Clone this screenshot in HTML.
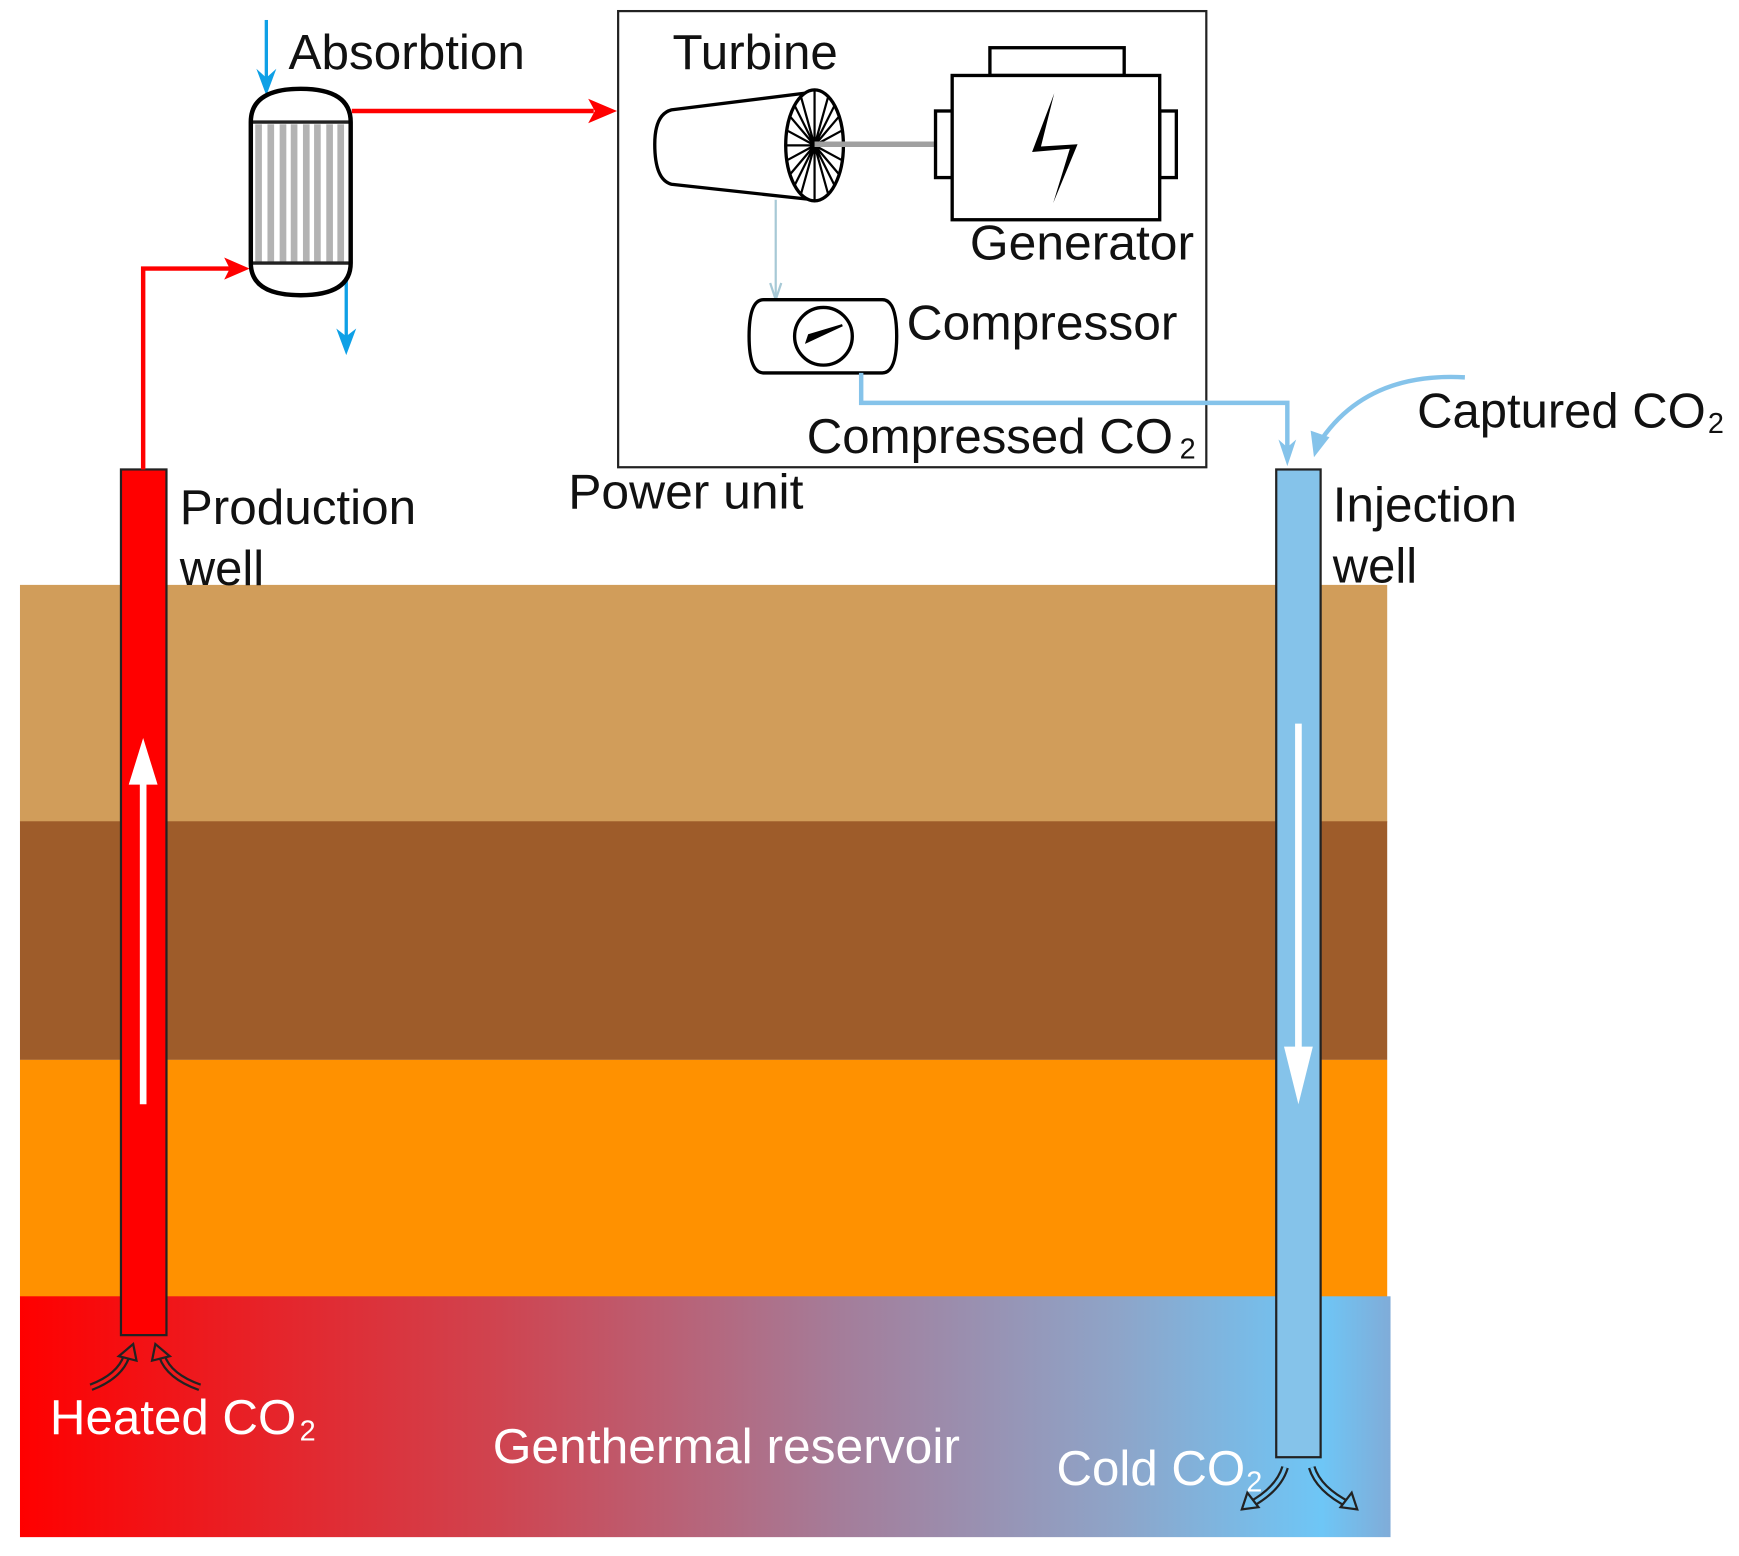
<!DOCTYPE html>
<html><head><meta charset="utf-8"><style>html,body{margin:0;padding:0;background:#fff}svg{display:block}</style></head>
<body>
<svg width="1739" height="1556" viewBox="0 0 1567 1402" preserveAspectRatio="none" xmlns="http://www.w3.org/2000/svg" font-family="Liberation Sans, Arial, sans-serif">
<defs>
<linearGradient id="res" x1="0" y1="0" x2="1" y2="0">
<stop offset="0" stop-color="#ff0000"/>
<stop offset="0.35" stop-color="#cf4450"/>
<stop offset="0.6" stop-color="#a47d9a"/>
<stop offset="0.8" stop-color="#8ea4c8"/>
<stop offset="0.95" stop-color="#6ec6f6"/>
<stop offset="1" stop-color="#80acd8"/>
</linearGradient>
</defs>
<!-- layers -->
<rect x="18" y="527" width="1232" height="214" fill="#d19d5a"/>
<rect x="18" y="740" width="1232" height="215" fill="#9e5c2a"/>
<rect x="18" y="955" width="1232" height="214" fill="#ff9100"/>
<rect x="18" y="1168" width="1235" height="217" fill="url(#res)"/>
<!-- production well -->
<rect x="109" y="423" width="41" height="780" fill="#ff0000" stroke="#222" stroke-width="2"/>
<path d="M129,995 V705" stroke="#fff" stroke-width="6"/>
<path d="M116,707 L129,665 L142,707Z" fill="#fff"/>
<!-- injection well -->
<rect x="1150" y="423" width="40" height="890" fill="#85c3ea" stroke="#222" stroke-width="2"/>
<path d="M1170,652 V945" stroke="#fff" stroke-width="6"/>
<path d="M1157,943 L1170,995 L1183,943Z" fill="#fff"/>
<!-- flow arrows (hollow) -->
<g fill="none" stroke-linecap="butt">
<g stroke="#222" stroke-width="7">
<path d="M114,1222 Q108,1240 82,1250"/>
<path d="M146,1222 Q152,1240 180,1250"/>
<path d="M1158,1322 Q1152,1342 1126,1356"/>
<path d="M1182,1322 Q1188,1342 1216,1356"/>
</g>
<g stroke-width="3">
<path d="M114,1222 Q108,1240 82,1250" stroke="#f21818"/>
<path d="M146,1222 Q152,1240 180,1250" stroke="#f01a1c"/>
<path d="M1158,1322 Q1152,1342 1126,1356" stroke="#70c0ee"/>
<path d="M1182,1322 Q1188,1342 1216,1356" stroke="#6ec6f6"/>
</g>
</g>
<g stroke="#222" stroke-width="2" fill="#f01818">
<path d="M120,1211 L123,1226 L107,1222Z"/>
<path d="M140,1211 L137,1226 L153,1222Z"/>
</g>
<g stroke="#222" stroke-width="2" fill="#70c0ee">
<path d="M1119,1360 L1124,1345 L1134,1358Z"/>
<path d="M1223,1360 L1218,1345 L1208,1358Z"/>
</g>
<!-- red pipes -->
<path d="M129,423 V242 H210" stroke="red" stroke-width="4" fill="none"/>
<path d="M202,232 L225,242 L202,252 L207,242Z" fill="red"/>
<path d="M317,100 H535" stroke="red" stroke-width="4" fill="none"/>
<path d="M530,89 L556,100 L530,111 L536,100Z" fill="red"/>
<!-- blue absorption -->
<path d="M240,18 V75" stroke="#0ea0e6" stroke-width="3"/>
<path d="M231,62 L240,86 L249,62 L240,70Z" fill="#0ea0e6"/>
<path d="M312,250 V305" stroke="#0ea0e6" stroke-width="3"/>
<path d="M303,296 L312,320 L321,296 L312,303Z" fill="#0ea0e6"/>
<!-- vessel -->
<g>
<rect x="226" y="110" width="90" height="127" fill="#fff"/>
<g fill="#b3b3b3">
<rect x="230" y="112" width="6" height="124"/><rect x="241" y="112" width="6" height="124"/><rect x="252" y="112" width="6" height="124"/><rect x="262" y="112" width="6" height="124"/><rect x="273" y="112" width="6" height="124"/><rect x="283" y="112" width="6" height="124"/><rect x="294" y="112" width="6" height="124"/><rect x="304" y="112" width="6" height="124"/>
</g>
<path d="M226,110 H316 M226,237 H316" stroke="#222" stroke-width="3"/>
<path d="M226,110 Q226,80 271,80 Q316,80 316,110 V237 Q316,266 271,266 Q226,266 226,237 Z" fill="none" stroke="#000" stroke-width="4"/>
</g>
<!-- power unit box -->
<rect x="557" y="10" width="530" height="411" fill="none" stroke="#222" stroke-width="2"/>
<!-- turbine -->
<path d="M733,83 L605,99 Q590,103 590,130 Q590,162 605,166 L733,180" fill="none" stroke="#000" stroke-width="3"/>
<ellipse cx="734" cy="131" rx="26" ry="50" fill="#fff" stroke="#000" stroke-width="3"/>
<g stroke="#000" stroke-width="2">
<path d="M734,131 L734,81 M734,131 L734,181 M734,131 L709,131 M734,131 L760,131 M734,131 L722,88 M734,131 L746,88 M734,131 L722,174 M734,131 L746,174 M734,131 L712,105 M734,131 L756,105 M734,131 L712,157 M734,131 L756,157 M734,131 L716,95 M734,131 L752,95 M734,131 L716,167 M734,131 L752,167 M734,131 L710,118 M734,131 L758,118 M734,131 L710,144 M734,131 L758,144"/>
</g>
<path d="M734,130 H843" stroke="#a0a0a0" stroke-width="5"/>
<!-- generator -->
<rect x="892" y="43" width="121" height="25" fill="#fff" stroke="#000" stroke-width="3"/>
<rect x="843" y="100" width="15" height="60" fill="#fff" stroke="#000" stroke-width="3"/>
<rect x="1045" y="100" width="15" height="60" fill="#fff" stroke="#000" stroke-width="3"/>
<rect x="858" y="68" width="187" height="130" fill="#fff" stroke="#000" stroke-width="3"/>
<path d="M950,84 L930,137 L964,134 L949,183 L971,130 L938,132 Z" fill="#000"/>
<!-- turbine to compressor -->
<path d="M699,180 V268" stroke="#a7c9d6" stroke-width="2"/>
<path d="M694,255 L699,270 L704,255" fill="none" stroke="#a7c9d6" stroke-width="2"/>
<!-- compressor -->
<path d="M688,270 H795 Q808,270 808,303 Q808,336 795,336 H688 Q675,336 675,303 Q675,270 688,270Z" fill="#fff" stroke="#000" stroke-width="3"/>
<circle cx="742" cy="303" r="26" fill="none" stroke="#000" stroke-width="3"/>
<path d="M727,308 L759,293 L729,302Z" stroke="#000" stroke-width="2" fill="#000"/>
<!-- compressed co2 line -->
<path d="M776,336 V363 H1160 V410" stroke="#85c3ea" stroke-width="4" fill="none"/>
<path d="M1152,396 L1160,420 L1168,396 L1160,403Z" fill="#85c3ea"/>
<path d="M1320,340 Q1230,335 1188,400" stroke="#85c3ea" stroke-width="4" fill="none"/>
<path d="M1181,388 L1184,412 L1198,394Z" fill="#85c3ea"/>
<!-- text -->
<g font-size="44" fill="#111">
<text x="260" y="62" textLength="213" lengthAdjust="spacingAndGlyphs">Absorbtion</text>
<text x="606" y="62" textLength="149" lengthAdjust="spacingAndGlyphs">Turbine</text>
<text x="874" y="234" textLength="202" lengthAdjust="spacingAndGlyphs">Generator</text>
<text x="817" y="306" textLength="244" lengthAdjust="spacingAndGlyphs">Compressor</text>
<text x="727" y="408" textLength="330" lengthAdjust="spacingAndGlyphs">Compressed CO</text>
<text x="1063" y="413" font-size="26">2</text>
<text x="512" y="458" textLength="212" lengthAdjust="spacingAndGlyphs">Power unit</text>
<text x="1277" y="385" textLength="260" lengthAdjust="spacingAndGlyphs">Captured CO</text>
<text x="1539" y="390" font-size="26">2</text>
<text x="162" y="472" textLength="213" lengthAdjust="spacingAndGlyphs">Production</text>
<text x="162" y="527" textLength="76" lengthAdjust="spacingAndGlyphs">well</text>
<text x="1201" y="470" textLength="166" lengthAdjust="spacingAndGlyphs">Injection</text>
<text x="1201" y="525" textLength="76" lengthAdjust="spacingAndGlyphs">well</text>
</g>
<g font-size="44" fill="#fff">
<text x="45" y="1292" textLength="222" lengthAdjust="spacingAndGlyphs">Heated CO</text>
<text x="270" y="1298" font-size="26">2</text>
<text x="444" y="1318" textLength="421" lengthAdjust="spacingAndGlyphs">Genthermal reservoir</text>
<text x="952" y="1338" textLength="170" lengthAdjust="spacingAndGlyphs">Cold CO</text>
<text x="1123" y="1344" font-size="26">2</text>
</g>
</svg>
</body></html>
